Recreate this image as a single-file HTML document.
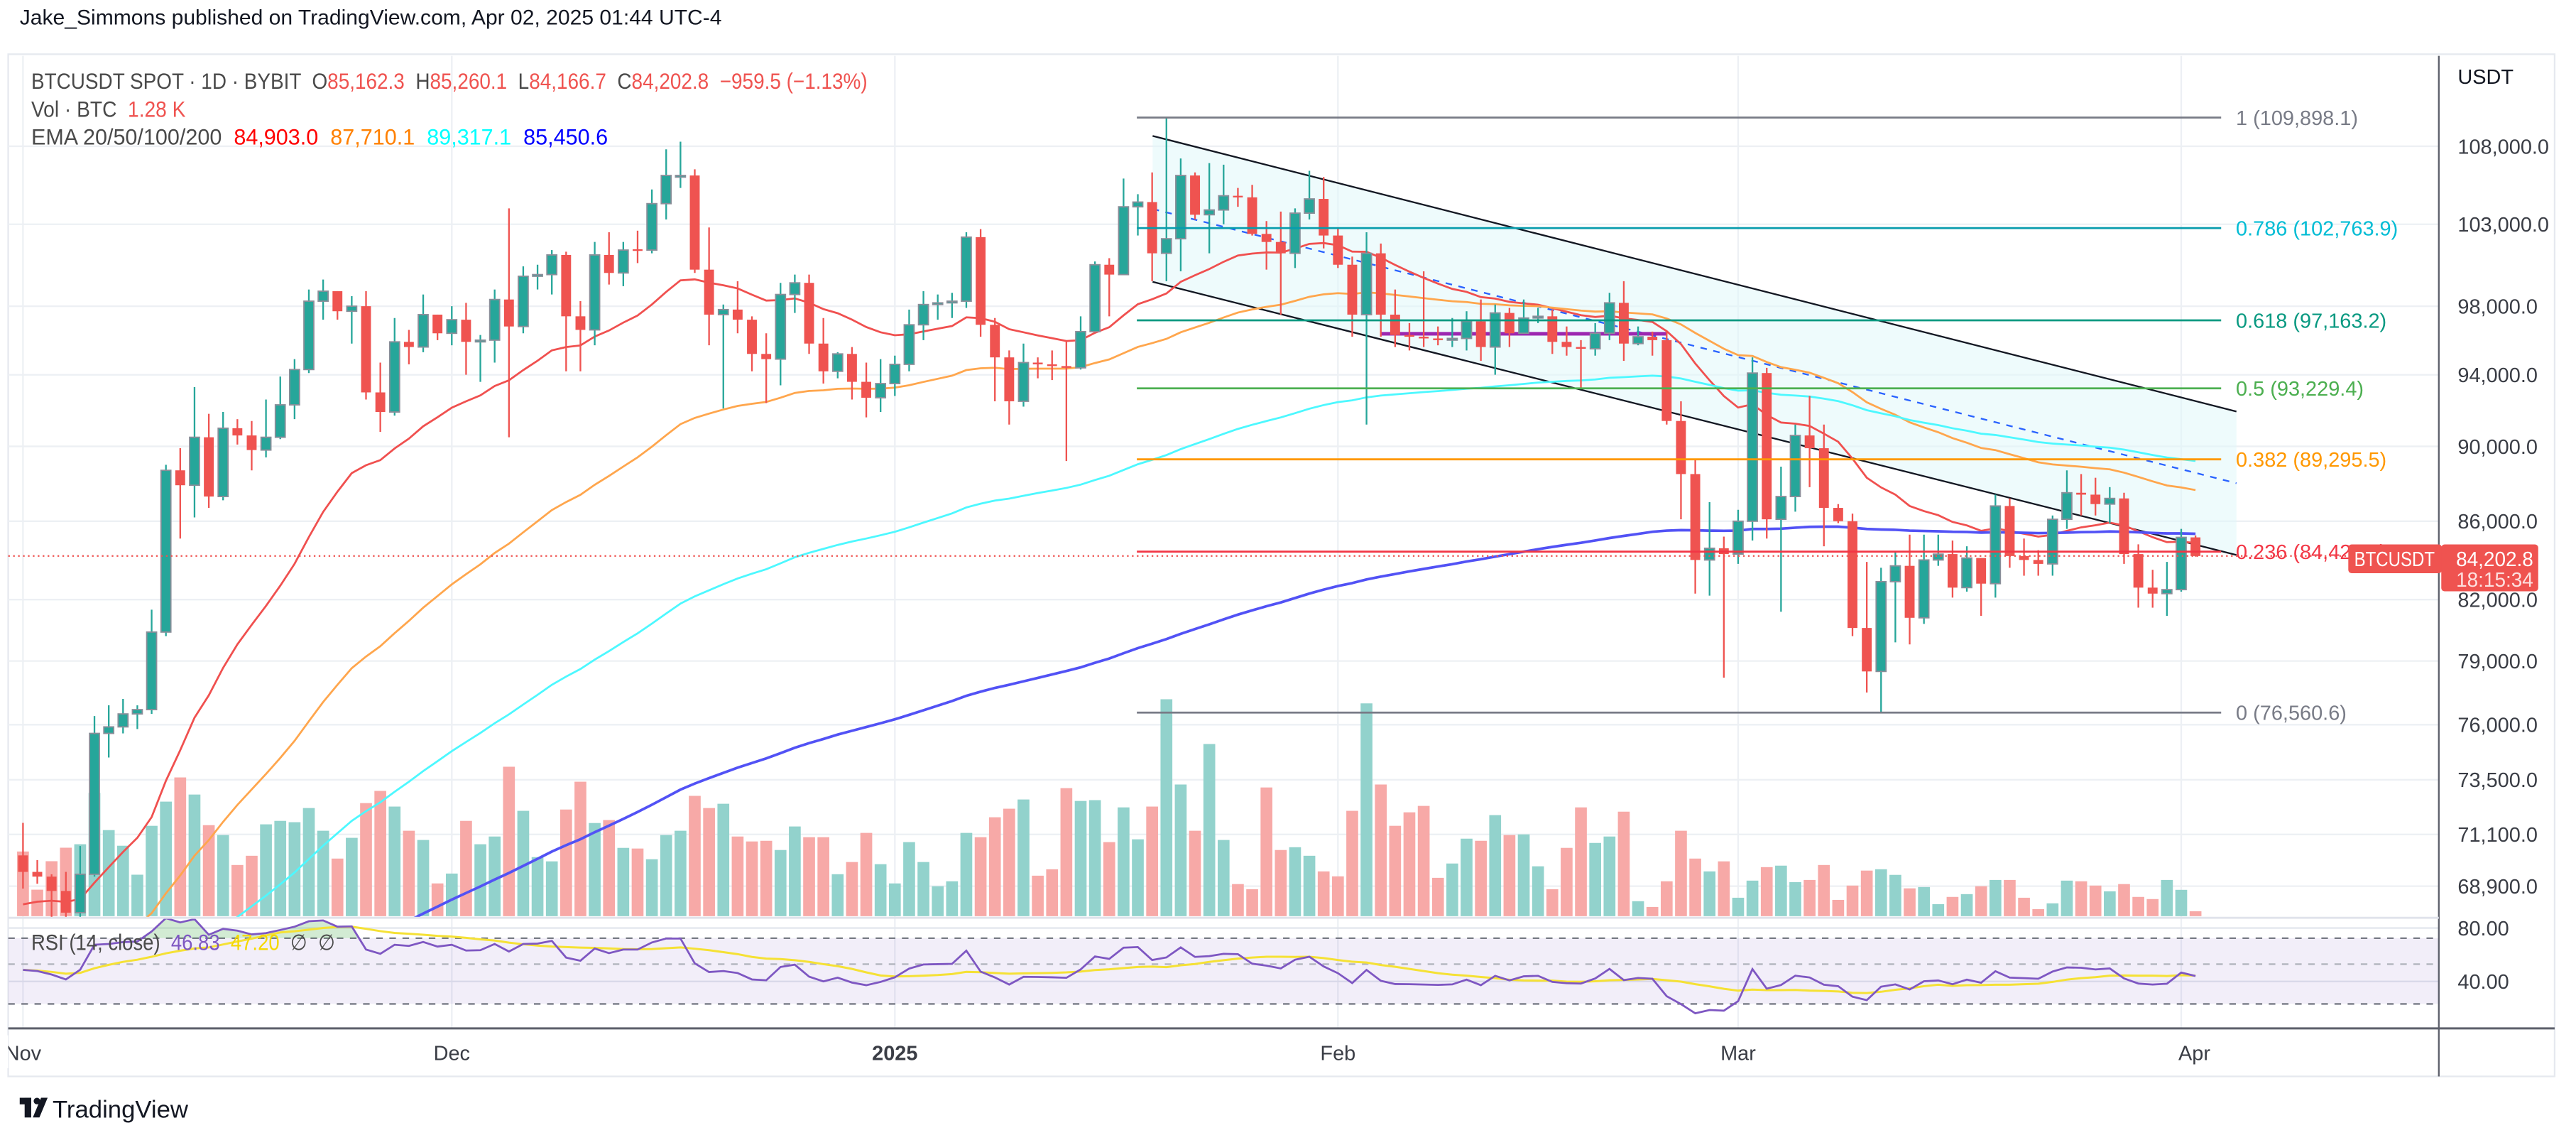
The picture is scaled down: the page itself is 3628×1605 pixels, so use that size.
<!DOCTYPE html>
<html><head><meta charset="utf-8">
<style>
html,body{margin:0;padding:0;background:#fff;}
svg{display:block;}
text{font-family:"Liberation Sans",sans-serif;white-space:pre;}
</style></head>
<body>
<svg id="chart" xmlns="http://www.w3.org/2000/svg" width="3628" height="1605" viewBox="0 0 1568 693.7" preserveAspectRatio="none">
<rect x="0" y="0" width="1568" height="693.7" fill="#ffffff"/>
<text x="12" y="15" font-size="13" fill="#131722">Jake_Simmons published on TradingView.com, Apr 02, 2025 01:44 UTC-4</text>
<rect x="5" y="33" width="1550" height="622" fill="none" stroke="#e6e9ef" stroke-width="1"/>
<g id="grid"></g>
<g id="volume" clip-path="url(#mainclip)"></g>
<defs>
<clipPath id="mainclip"><rect x="5" y="34" width="1479.5" height="524"/></clipPath>
<clipPath id="rsiclip"><rect x="5" y="559" width="1479.5" height="66.5"/></clipPath>
<clipPath id="obclip"><rect x="5" y="559" width="1479.5" height="11.9"/></clipPath>
</defs>
<g id="drawings" clip-path="url(#mainclip)"></g>
<g id="emas" clip-path="url(#mainclip)"></g>
<g id="candles" clip-path="url(#mainclip)"></g>
<g id="rsi"></g>
<g id="axes"></g>
<g font-size="13.5">
<text x="19" y="54" fill="#4a4a4a" textLength="509" lengthAdjust="spacingAndGlyphs">BTCUSDT SPOT · 1D · BYBIT  O<tspan fill="#ef5350">85,162.3</tspan>  H<tspan fill="#ef5350">85,260.1</tspan>  L<tspan fill="#ef5350">84,166.7</tspan>  C<tspan fill="#ef5350">84,202.8</tspan>  <tspan fill="#ef5350">−959.5 (−1.13%)</tspan></text>
<text x="19" y="71" fill="#4a4a4a" textLength="94" lengthAdjust="spacingAndGlyphs">Vol · BTC  <tspan fill="#ef5350">1.28 K</tspan></text>
<text x="19" y="88" fill="#4a4a4a" textLength="351" lengthAdjust="spacingAndGlyphs">EMA 20/50/100/200  <tspan fill="#ff0000">84,903.0</tspan>  <tspan fill="#ff8000">87,710.1</tspan>  <tspan fill="#00ffff">89,317.1</tspan>  <tspan fill="#0000ff">85,450.6</tspan></text>
<text x="19" y="578" fill="#4a4a4a" textLength="185" lengthAdjust="spacingAndGlyphs">RSI (14, close)  <tspan fill="#7e57c2">46.83</tspan>  <tspan fill="#f5d800">47.20</tspan>  ∅  ∅</text>
</g>
<g>
<rect x="12" y="668" width="7" height="4" fill="#131722"/>
<rect x="15" y="668" width="4" height="12" fill="#131722"/>
<circle cx="22.5" cy="670" r="2" fill="#131722"/>
<polygon points="25,668 29,668 24,680 20,680" fill="#131722"/>
<text x="32" y="680" font-size="15" fill="#131722">TradingView</text>
</g>
</svg>
<script>
const opens=[70.2,69.5,69.3,68.7,67.8,69.4,75.6,75.9,76.5,76.7,80.4,88.7,87.9,90.5,87.3,91.0,90.6,89.8,90.5,92.3,94.3,98.3,98.9,97.7,98.0,93.0,91.9,95.9,95.6,97.5,96.4,97.2,95.9,96.0,98.4,96.8,99.8,99.9,101.1,97.4,96.6,101.1,100.0,101.45,101.4,104.3,106.1,106.1,100.2,97.5,97.8,97.2,95.2,94.9,98.7,99.4,95.8,94.2,95.2,93.6,92.7,93.5,94.6,96.9,98.1,98.2,98.3,102.2,96.9,95.0,92.5,94.7,94.6,94.5,94.4,96.5,100.5,99.9,104.1,104.4,101.2,102.1,106.1,103.6,103.9,104.8,104.7,102.4,101.9,101.2,103.7,104.6,102.3,100.5,97.5,101.2,97.5,96.3,96.2,96.1,96.0,96.1,97.1,95.6,97.6,96.4,97.3,97.4,95.9,95.6,95.5,96.4,98.2,95.8,96.2,96.0,91.4,88.5,84.0,84.6,84.3,86.0,94.1,86.1,87.3,90.6,89.9,86.7,86.0,80.6,78.5,82.9,83.7,81.1,84.0,84.3,82.6,84.1,82.8,86.8,84.2,84.0,83.8,86.1,87.5,87.4,86.9,87.2,84.3,82.6,82.3,82.5,85.16];
const highs=[71.6,70.0,69.4,69.5,70.6,76.4,76.9,77.2,76.9,81.5,89.0,89.9,93.3,91.8,91.9,91.5,91.4,92.6,93.9,94.9,99.0,99.6,98.9,98.6,98.9,94.7,97.3,96.6,98.7,97.5,98.0,98.2,96.3,99.0,104.0,100.4,100.5,101.4,101.3,98.3,101.9,102.5,101.9,102.6,105.2,107.8,108.3,106.5,102.8,98.1,99.5,97.4,96.4,99.4,99.9,99.9,97.3,95.3,95.6,94.7,94.9,95.1,97.8,98.9,98.7,98.8,102.5,102.7,97.3,95.4,95.8,95.0,95.4,95.9,97.4,100.7,100.9,105.9,104.9,106.3,109.9,107.2,106.3,106.9,106.8,105.3,105.5,103.2,103.8,104.0,106.4,106.0,102.8,101.0,102.5,101.8,99.0,97.0,100.1,96.8,97.3,97.7,98.4,98.1,97.9,98.4,97.9,97.8,96.8,96.0,97.0,98.8,99.5,96.8,96.5,96.5,92.5,89.3,87.0,85.2,86.6,95.0,94.4,88.9,91.2,92.8,91.2,86.9,86.4,83.9,83.6,84.4,85.3,85.3,85.3,85.0,84.7,84.1,87.4,87.2,85.1,84.5,86.3,88.7,88.5,88.3,87.8,87.5,84.8,83.5,83.9,85.6,85.26];
const lows=[68.8,69.0,67.5,66.8,67.4,69.3,74.5,75.6,75.8,76.5,80.2,85.1,86.2,86.7,87.1,90.1,88.7,89.4,90.4,91.5,94.1,97.2,97.2,95.8,92.6,90.8,91.7,94.6,95.3,96.0,95.7,94.0,93.6,94.7,90.5,96.4,99.0,98.7,94.2,94.2,95.7,99.3,99.2,100.6,101.2,103.3,105.3,100.0,95.7,92.1,96.4,94.2,92.4,93.4,97.6,95.2,93.5,93.8,92.6,91.6,91.9,92.8,94.2,96.0,97.2,97.3,97.9,96.2,92.5,91.2,92.2,93.8,93.7,89.2,94.3,96.5,97.4,99.9,102.3,99.5,99.5,100.1,103.3,101.2,103.0,104.1,102.3,100.2,97.5,100.3,103.3,101.5,100.3,96.2,91.2,96.2,95.6,95.4,95.6,95.7,95.6,95.4,94.8,94.0,95.6,96.4,97.0,95.2,95.1,93.2,95.1,96.0,94.8,95.7,95.1,91.2,86.1,82.3,82.2,78.2,83.8,85.0,85.1,81.4,86.5,87.8,84.7,85.9,80.2,77.5,76.6,79.9,79.8,80.8,83.7,82.1,82.4,81.2,82.1,83.6,83.2,83.2,83.2,85.6,86.3,86.3,85.9,83.8,81.6,81.6,81.2,82.4,84.17];
const closes=[69.5,69.3,68.7,67.8,69.4,75.6,75.9,76.5,76.7,80.4,88.7,87.9,90.5,87.3,91.0,90.6,89.8,90.5,92.3,94.3,98.3,98.9,97.7,98.0,93.0,91.9,95.9,95.6,97.5,96.4,97.2,95.9,96.0,98.4,96.8,99.8,99.9,101.1,97.4,96.6,101.1,100.0,101.4,101.4,104.3,106.1,106.1,100.2,97.5,97.8,97.2,95.2,94.9,98.7,99.4,95.8,94.2,95.2,93.6,92.7,93.5,94.6,96.9,98.1,98.2,98.3,102.2,96.9,95.0,92.5,94.7,94.6,94.5,94.4,96.5,100.5,99.9,104.1,104.4,101.2,102.1,106.1,103.6,103.9,104.8,104.7,102.4,101.9,101.2,103.7,104.6,102.3,100.5,97.5,101.2,97.5,96.3,96.2,96.1,96.0,96.1,97.1,95.6,97.6,96.4,97.3,97.4,95.9,95.6,95.5,96.4,98.2,95.8,96.2,96.0,91.4,88.5,84.0,84.6,84.3,86.0,94.1,86.1,87.3,90.6,89.9,86.7,86.0,80.6,78.5,82.9,83.7,81.1,84.0,84.3,82.6,84.1,82.8,86.8,84.2,84.0,83.8,86.1,87.5,87.4,86.9,87.2,84.3,82.6,82.3,82.5,85.16,84.2];
const volumes=[39.3,16.1,33.4,41.6,43.7,74.9,52.3,42.8,25.2,54.9,69.6,84.3,73.9,55.3,49.3,31.1,36.7,55.8,57.9,57.1,65.7,51.9,35.0,47.6,68.7,76.1,66.6,51.9,46.3,19.9,25.9,57.9,43.7,48.4,90.8,64.0,35.9,33.3,64.8,81.7,56.6,58.4,41.5,41.1,34.6,49.3,51.9,73.1,65.7,68.3,48.4,45.4,45.8,40.2,54.5,48.0,48.0,25.5,32.9,50.6,31.6,19.9,45.0,32.9,18.2,21.2,50.6,48.0,60.1,65.3,70.9,24.6,28.5,77.8,70.0,70.5,45.0,66.1,46.7,66.6,131.8,80.0,51.9,104.6,46.3,19.5,16.4,78.2,40.2,41.9,36.7,27.2,24.2,64.0,129.3,80.0,54.9,63.1,67.0,23.3,32.0,47.1,45.8,61.4,49.3,49.7,30.3,16.4,41.5,66.1,44.5,48.4,63.5,9.1,5.6,21.2,51.9,35.0,27.2,33.3,11.2,21.6,29.8,30.7,20.7,22.0,31.1,9.9,18.6,27.7,28.5,25.1,16.9,17.7,7.3,11.7,13.4,18.2,22.0,22.0,11.2,4.3,7.8,21.6,21.2,18.6,15.1,19.5,11.7,10.4,22.0,16.0,3.0];
const priceTicks=[108000,103000,98000,94000,90000,86000,82000,79000,76000,73500,71100,68900];
const monthLabels=["Nov","Dec","2025","Feb","Mar","Apr"];
const monthDays=[0,30,61,92,120,151];
const fibRatios=[1,0.786,0.618,0.5,0.382,0.236,0];
const fibHigh=109898.1, fibLow=76560.6;
const emaPeriods=[20,50,100,200];
const emaSeeds=[68.0,65.0,63.0,61.3];
const lastPrice=84202.8;

const NS="http://www.w3.org/2000/svg";
function X(d){return 14+d*8.7;}
function Y(p){return 89+1001.7*Math.log(108/p);}
function YV(v){return 557.5-v/131.8*132;}
function YR(v){return 570.9+(70-v)*1.0;}
function mk(tag,attrs,parent){const e=document.createElementNS(NS,tag);for(const k in attrs)e.setAttribute(k,attrs[k]);parent.appendChild(e);return e;}
const gGrid=document.getElementById('grid'),gVol=document.getElementById('volume'),gC=document.getElementById('candles'),gE=document.getElementById('emas'),gD=document.getElementById('drawings'),gR=document.getElementById('rsi'),gA=document.getElementById('axes');

priceTicks.forEach(p=>{const l=mk('line',{x1:5,x2:1484.5,y1:Y(p/1000),y2:Y(p/1000),stroke:'#edf0f4','stroke-width':1},gGrid);

});
monthDays.forEach(d=>{const l=mk('line',{x1:X(d),x2:X(d),y1:34,y2:625.8,stroke:'#edf0f4','stroke-width':1},gGrid);

});
[564.7,597.2].forEach(y=>{const l=mk('line',{x1:5,x2:1484.5,y1:y,y2:y,stroke:'#e3e7ee','stroke-width':1},gGrid);

});

volumes.forEach((v,i)=>{const up=closes[i]>=opens[i];const r=mk('rect',{x:X(i)-3.6,y:YV(v),width:7.2,height:557.5-YV(v),fill:up?'#92d2cc':'#f7a9a7'},gVol);

});

const ch={x1:701.6,x2:1361.3,t1:82.7,t2:250.4,b1:171.5,b2:337.7};
const fill=mk('polygon',{points:`${ch.x1},${ch.t1} ${ch.x2},${ch.t2} ${ch.x2},${ch.b2} ${ch.x1},${ch.b1}`,fill:'#e0f7fa','fill-opacity':0.55},gD);


const tl=mk('line',{x1:ch.x1,y1:ch.t1,x2:ch.x2,y2:ch.t2,stroke:'#131722','stroke-width':1},gD);


const bl=mk('line',{x1:ch.x1,y1:ch.b1,x2:ch.x2,y2:ch.b2,stroke:'#131722','stroke-width':1},gD);


const ml=mk('line',{x1:ch.x1,y1:(ch.t1+ch.b1)/2,x2:ch.x2,y2:(ch.t2+ch.b2)/2,stroke:'#2962ff','stroke-width':1,'stroke-dasharray':'4 4'},gD);


const pl=mk('rect',{x:840.4,y:202,width:173.8,height:2.2,fill:'#9c27b0'},gD);


const fibColors=['#787b86','#089cad','#089981','#4caf50','#ff9800','#f23645','#787b86'];
const fibLabelColors=['#787b86','#00bcd4','#089981','#4caf50','#ff9800','#f23645','#787b86'];
fibRatios.forEach((r,i)=>{const p=fibLow+(fibHigh-fibLow)*r;const y=Y(p/1000);
const l=mk('line',{x1:692,x2:1352,y1:y,y2:y,stroke:fibColors[i],'stroke-width':1.2},gA);


const t=mk('text',{x:1361,y:y+4.5,'font-size':12.5,fill:fibLabelColors[i]},gA);
t.textContent=r+' ('+p.toLocaleString('en-US',{minimumFractionDigits:1,maximumFractionDigits:1})+')';

});

const emaColors=['#f0504f','#ffa64d','#4df8ff','#5252f5'];
emaPeriods.forEach((n,k)=>{const a=2/(n+1);let e=emaSeeds[k];const pts=[];closes.forEach((c,i)=>{e=e+a*(c-e);pts.push(X(i).toFixed(1)+','+Y(e).toFixed(1));});
const pth=mk('polyline',{points:pts.join(' '),fill:'none',stroke:emaColors[k],'stroke-width':k==3?1.6:1.2},gE);

});

closes.forEach((c,i)=>{const o=opens[i],up=c>=o;const col=up?'#26a69a':'#ef5350';
const g=mk('g',{},gC);


mk('line',{x1:X(i),x2:X(i),y1:Y(highs[i]),y2:Y(lows[i]),stroke:col,'stroke-width':1},g);
const top=Y(Math.max(o,c)),bot=Y(Math.min(o,c));
mk('rect',{x:X(i)-3,y:top,width:6,height:Math.max(1,bot-top),fill:col,stroke:up?'#8a8e99':'none','stroke-width':up?0.8:0},g);});

const py=Y(lastPrice/1000);
const cl=mk('line',{x1:5,x2:1484.5,y1:py,y2:py,stroke:'#ef5350','stroke-width':1,'stroke-dasharray':'1 2'},gA);



let ag=0.62,al=0.55;const rsiVals=[];
closes.forEach((c,i)=>{const prev=i?closes[i-1]:opens[0];const ch=c-prev;ag=(ag*13+Math.max(ch,0))/14;al=(al*13+Math.max(-ch,0))/14;rsiVals.push(100-100/(1+ag/al));});
const rsiMA=rsiVals.map((v,i)=>{const s=rsiVals.slice(Math.max(0,i-13),i+1);return s.reduce((a,b)=>a+b,0)/s.length;});
const band=mk('rect',{x:5,y:570.9,width:1479.5,height:40,fill:'#7e57c2','fill-opacity':0.1},gR);


[[570.9,'#787b86'],[586.7,'#b2b5be'],[610.9,'#787b86']].forEach(([y,c])=>{const l=mk('line',{x1:5,x2:1484.5,y1:y,y2:y,stroke:c,'stroke-width':1,'stroke-dasharray':'4 4'},gR);

});
const rp=rsiVals.map((v,i)=>X(i).toFixed(1)+','+YR(v).toFixed(1));
const ob=mk('polygon',{points:X(0)+',570.9 '+rp.join(' ')+' '+X(rsiVals.length-1)+',570.9',fill:'#4caf50','fill-opacity':0.25,'clip-path':'url(#obclip)'},gR);


const rmal=mk('polyline',{points:rsiMA.map((v,i)=>X(i).toFixed(1)+','+YR(v).toFixed(1)).join(' '),fill:'none',stroke:'#f5e135','stroke-width':1.3,'clip-path':'url(#rsiclip)'},gR);


const rl=mk('polyline',{points:rp.join(' '),fill:'none',stroke:'#7e57c2','stroke-width':1.2,'clip-path':'url(#rsiclip)'},gR);



[[1484.5,34,1484.5,655],[5,558.5,1484.5,558.5]].forEach(([a,b,c,d],k)=>{const l=mk('line',{x1:a,y1:b,x2:c,y2:d,stroke:k?'#e0e3eb':'#5d606b','stroke-width':k?1.2:1},gA);

});
const tb=mk('line',{x1:5,y1:625.8,x2:1555,y2:625.8,stroke:'#5d606b','stroke-width':1.3},gA);


const ut=mk('text',{x:1496,y:51,'font-size':12.5,fill:'#131722'},gA);ut.textContent='USDT';


priceTicks.forEach(p=>{const t=mk('text',{x:1496,y:Y(p/1000)+4.5,'font-size':12.5,fill:'#3a3d45'},gA);
t.textContent=p.toLocaleString('en-US',{minimumFractionDigits:1});

});
[['80.00',564.7],['40.00',597.2]].forEach(([s,y])=>{const t=mk('text',{x:1496,y:y+4.5,'font-size':12.5,fill:'#3a3d45'},gA);t.textContent=s;

});
monthLabels.forEach((m,i)=>{const t=mk('text',{x:X(monthDays[i])+(i==5?8:0),y:645,'font-size':12.5,fill:'#3a3d45','text-anchor':'middle','font-weight':m==='2025'?'bold':'normal'},gA);t.textContent=m;

});
const cover=mk('rect',{x:0,y:630,width:5,height:20,fill:'#fff'},gA);


const tg1=mk('rect',{x:1429.4,y:331.3,width:57,height:17.5,rx:2,fill:'#ef5350'},gA);


const tt1=mk('text',{x:1433,y:344.5,'font-size':12.5,fill:'#fff',textLength:49,lengthAdjust:'spacingAndGlyphs'},gA);tt1.textContent='BTCUSDT';


const tg2=mk('rect',{x:1486,y:331.3,width:59,height:28.5,rx:2,fill:'#ef5350'},gA);


const tt2=mk('text',{x:1495,y:344.5,'font-size':12.5,fill:'#fff',textLength:47,lengthAdjust:'spacingAndGlyphs'},gA);tt2.textContent='84,202.8';


const tt3=mk('text',{x:1495,y:357,'font-size':12.5,fill:'#fde0df',textLength:47,lengthAdjust:'spacingAndGlyphs'},gA);tt3.textContent='18:15:34';


</script>
</body></html>
